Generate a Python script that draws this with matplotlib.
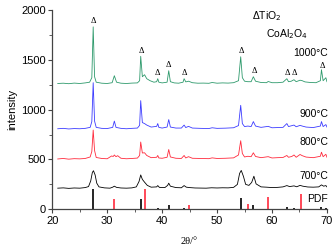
import numpy as np
import matplotlib
matplotlib.use("Agg")
import matplotlib.pyplot as plt

plt.rcParams['font.family'] = ['Liberation Sans', 'DejaVu Sans']

# 700 C (black), 800 C (red), 900 C (blue), 1000 C (green)
tt_700 = [21, 22, 23, 24, 25, 26, 26.6, 27.0, 27.3, 27.5, 27.8, 28.1, 28.5, 29.5, 30.5,
          31.0, 31.3, 31.7, 32.5, 33.5, 34.5, 35.3, 35.8, 36.1, 36.4, 36.8, 37.3, 38, 39.0,
          39.2, 39.5, 40.5, 41.0, 41.2, 41.5, 42.5, 43.5, 44.0, 44.4, 45, 46, 47, 48, 49,
          50, 51, 52, 53, 53.7, 54.1, 54.4, 54.8, 55.2, 55.8, 56.3, 56.7, 57.1, 58, 59, 60,
          61, 62, 62.7, 63.2, 64.0, 64.5, 65.1, 65.6, 66.5, 67.5, 68.5, 69.0, 69.4, 69.8, 70]
int_700 = [212, 215, 210, 214, 212, 218, 228, 285, 370, 387, 345, 262, 225, 215, 212,
           222, 232, 220, 214, 212, 215, 225, 280, 345, 300, 272, 240, 222, 225,
           238, 220, 218, 240, 262, 232, 218, 216, 238, 222, 218, 214, 213, 212, 216,
           214, 216, 215, 220, 250, 360, 390, 330, 250, 240, 270, 332, 255, 225, 222, 218,
           220, 225, 238, 228, 235, 226, 240, 232, 224, 222, 225, 245, 232, 238, 225]

tt_800 = [21, 22, 23, 24, 25, 26, 26.9, 27.2, 27.45, 27.7, 28.0, 29, 30, 30.8, 31.1,
          31.3, 31.6, 31.9, 32.5, 33.5, 34.5, 35.5, 35.9, 36.1, 36.4, 36.8, 37.2, 38,
          39.0, 39.2, 39.4, 40, 40.9, 41.2, 41.5, 42.5, 43.5, 44.0, 44.3, 44.8, 45.5, 47,
          48.5, 49.1, 50, 51.5, 53, 53.9, 54.3, 54.6, 55, 55.6, 56.2, 56.6, 57, 58, 59.3,
          60, 61, 62, 62.7, 63, 63.6, 64.0, 64.4, 65.1, 65.5, 66.2, 67.5, 68.8, 69.0, 69.3,
          69.8, 70]
int_800 = [505, 510, 503, 508, 506, 510, 525, 580, 795, 590, 520, 510, 507, 535, 530,
           545, 528, 538, 512, 507, 510, 514, 540, 675, 565, 567, 540, 518,
           522, 540, 515, 512, 522, 600, 525, 512, 510, 540, 515, 528, 512, 510,
           508, 516, 510, 512, 516, 545, 688, 560, 525, 532, 528, 567, 530, 518, 528,
           515, 518, 520, 540, 522, 530, 545, 522, 550, 538, 524, 518, 532, 573, 528,
           552, 522]

tt_900 = [21, 22, 23, 24, 25, 26, 26.9, 27.2, 27.45, 27.7, 28.0, 29, 30, 31.0, 31.3,
          31.6, 32.5, 33.5, 34.5, 35.5, 35.9, 36.1, 36.4, 36.8, 37.2, 38, 39.0, 39.2,
          39.4, 40, 40.9, 41.2, 41.5, 42.5, 43.5, 44.0, 44.3, 44.8, 45.5, 47, 48.5, 49.1,
          50, 51.5, 53, 53.9, 54.3, 54.6, 55, 55.6, 56.2, 56.6, 57, 58, 59.3, 60, 61, 62,
          62.7, 63, 64.0, 64.4, 65.1, 65.5, 66.2, 67.5, 68.8, 69.0, 69.3, 69.8, 70]
int_900 = [808, 812, 806, 810, 808, 812, 822, 880, 1270, 885, 822, 812, 810, 822, 885,
           822, 812, 808, 812, 815, 842, 1090, 870, 860, 845, 825, 832, 860,
           822, 815, 825, 900, 825, 815, 815, 845, 820, 832, 815, 812, 810, 818,
           812, 814, 818, 840, 1043, 860, 830, 835, 830, 880, 835, 822, 832, 818, 820, 822,
           860, 830, 845, 828, 842, 835, 825, 820, 835, 880, 830, 850, 825]

tt_1000 = [21, 22, 23, 24, 25, 26, 26.8, 27.2, 27.45, 27.7, 28.0, 29, 30, 30.9, 31.3,
           31.7, 32.5, 33.5, 34.5, 35.5, 35.9, 36.1, 36.4, 36.8, 37.2, 37.8, 38.5, 39.0,
           39.2, 39.4, 40, 40.9, 41.2, 41.5, 42.2, 43, 43.8, 44.0, 44.3, 44.8, 45.5, 46.5,
           47.5, 48.5, 49.1, 50, 51, 52, 53, 53.9, 54.3, 54.6, 55, 55.6, 56.2, 56.6, 57, 58,
           59, 59.3, 60, 61, 62, 62.7, 63, 63.5, 64.0, 64.4, 65.1, 65.5, 66, 67, 68, 68.8,
           69.0, 69.3, 69.8, 70]
int_1000 = [1262, 1265, 1260, 1266, 1262, 1268, 1275, 1320, 1830, 1330, 1275, 1265, 1262, 1270, 1340,
            1275, 1265, 1262, 1266, 1268, 1290, 1535, 1330, 1350, 1310, 1290, 1275, 1280,
            1310, 1275, 1268, 1275, 1390, 1280, 1268, 1265, 1275, 1310, 1278, 1285, 1270, 1265,
            1266, 1264, 1272, 1265, 1268, 1266, 1270, 1290, 1530, 1320, 1285, 1280, 1280, 1330, 1285, 1272,
            1270, 1282, 1270, 1270, 1275, 1310, 1280, 1285, 1300, 1280, 1295, 1290, 1278, 1272, 1270, 1290,
            1400, 1290, 1320, 1280]

# PDF reference lines
pdf_tio2_pos = [27.45, 36.1, 39.2, 41.2, 44.0, 54.3, 56.6, 62.7, 64.0, 69.0, 69.8]
pdf_tio2_int = [200, 100, 15, 45, 15, 110, 40, 25, 15, 25, 15]
pdf_coal_pos = [31.3, 36.8, 44.8, 49.1, 55.6, 59.3, 65.2]
pdf_coal_int = [100, 200, 45, 6, 55, 120, 150]

# delta marks over TiO2 peaks
delta_pos = [27.5, 36.2, 39.2, 41.1, 44.1, 54.4, 56.8, 62.8, 64.1, 69.1]
delta_y = [1845, 1550, 1330, 1410, 1330, 1545, 1350, 1330, 1330, 1395]

temp_labels = ['1000\u00b0C', '900\u00b0C', '800\u00b0C', '700\u00b0C', 'PDF']
temp_label_y = [1565, 956, 678, 334, 103]

fig = plt.figure(figsize=(3.35, 2.48), dpi=100)
ax = fig.add_axes([0.156, 0.156, 0.820, 0.804])

ax.plot(tt_700, int_700, color='black', lw=0.6)
ax.plot(tt_800, int_800, color='#ff2a3c', lw=0.6)
ax.plot(tt_900, int_900, color='#3c3cff', lw=0.6)
ax.plot(tt_1000, int_1000, color='#2e9a6c', lw=0.6)

ax.vlines(pdf_tio2_pos, 0, pdf_tio2_int, color='black', lw=1.2)
ax.vlines(pdf_coal_pos, 0, pdf_coal_int, color='#ff2a3c', lw=1.2)

for x, y in zip(delta_pos, delta_y):
    ax.text(x, y, '\u0394', fontsize=6, ha='center', va='bottom', family='Liberation Serif')

for t, y in zip(temp_labels, temp_label_y):
    ax.text(70.2, y, t, fontsize=7.5, ha='right', va='center')

ax.text(59.1, 1940, '\u0394TiO$_2$', fontsize=7.5, ha='center', va='center')
ax.text(62.7, 1760, 'CoAl$_2$O$_4$', fontsize=7.5, ha='center', va='center')

ax.set_xlim(20, 70)
ax.set_ylim(0, 2000)
ax.set_xticks([20, 30, 40, 50, 60, 70])
ax.set_xticks([25, 35, 45, 55, 65], minor=True)
ax.set_yticks([0, 500, 1000, 1500, 2000])
ax.set_yticks([250, 750, 1250, 1750], minor=True)
ax.spines['top'].set_visible(False)
ax.spines['right'].set_visible(False)
for s in ['left', 'bottom']:
    ax.spines[s].set_color('#444444')
    ax.spines[s].set_linewidth(0.9)
ax.tick_params(which='major', direction='out', length=3, width=0.8, color='#444444', labelsize=8, pad=1.5)
ax.tick_params(which='minor', direction='out', length=2, width=0.6, color='#444444')

ax.set_ylabel('intensity', fontsize=8, labelpad=3)
ax.set_xlabel('2\u03b8/\u00b0', fontsize=7.5, family='Liberation Serif', labelpad=8)

fig.savefig('out.png', dpi=100)
